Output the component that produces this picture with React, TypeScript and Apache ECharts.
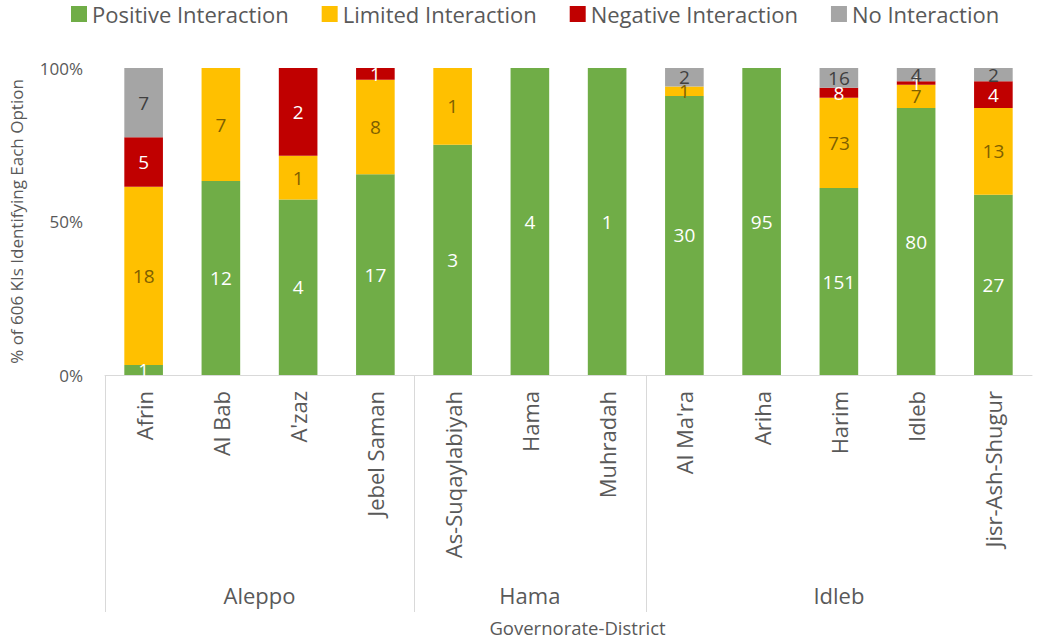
import React, { useEffect, useRef } from "react";
import * as echarts from "echarts";

const districts = [
  "Afrin", "Al Bab", "A'zaz", "Jebel Saman",
  "As-Suqaylabiyah", "Hama", "Muhradah",
  "Al Ma'ra", "Ariha", "Harim", "Idleb", "Jisr-Ash-Shugur",
];
const governorates = ["Aleppo", "Hama", "Idleb"];
const governorateSizes = [4, 3, 5];

const positive = [1, 12, 4, 17, 3, 4, 1, 30, 95, 151, 80, 27];
const limited = [18, 7, 1, 8, 1, 0, 0, 1, 0, 73, 7, 13];
const negative = [5, 0, 2, 1, 0, 0, 0, 0, 0, 8, 1, 4];
const noInteraction = [7, 0, 0, 0, 0, 0, 0, 2, 0, 16, 4, 2];

const seriesNames = ["Positive Interaction", "Limited Interaction", "Negative Interaction", "No Interaction"];
const seriesColors = ["#70AD47", "#FFC000", "#C00000", "#A5A5A5"];
const labelColors = ["#ffffff", "#7F6000", "#ffffff", "#404040"];
const yTicks = [0, 50, 100];

const FONT = "'Open Sans', 'Noto Sans', sans-serif";

export default function App() {
  const ref = useRef<HTMLDivElement>(null);
  useEffect(() => {
    if (!ref.current) return;
    const chart = echarts.init(ref.current, null, { renderer: "svg" });
    const raw = [positive, limited, negative, noInteraction];
    const totals = districts.map((_, i) => raw.reduce((s, arr) => s + arr[i], 0));

    const boundaries: number[] = [];
    const centers: number[] = [];
    let acc = 0;
    governorateSizes.forEach((n) => {
      boundaries.push(acc);
      centers.push(acc + n / 2);
      acc += n;
    });

    const series = raw.map((arr, k) => ({
      name: seriesNames[k],
      type: "bar",
      stack: "total",
      xAxisIndex: 0,
      barWidth: "50%",
      itemStyle: { color: seriesColors[k] },
      label: {
        show: true,
        position: "inside",
        color: labelColors[k],
        fontSize: 19,
        fontFamily: FONT,
        formatter: (p: any) => (arr[p.dataIndex] > 0 ? String(arr[p.dataIndex]) : ""),
      },
      data: arr.map((v, i) => (v / totals[i]) * 100),
    }));

    chart.setOption({
      animation: false,
      textStyle: { fontFamily: FONT },
      legend: {
        top: -2,
        left: 66,
        icon: "rect",
        itemWidth: 16,
        itemHeight: 16,
        itemGap: 33,
        textStyle: { fontSize: 22, color: "#595959", fontFamily: FONT },
        data: seriesNames,
      },
      grid: { left: 105, right: 14, top: 68, bottom: 268, containLabel: false },
      xAxis: [
        {
          type: "category",
          data: districts,
          axisLine: { show: true, lineStyle: { color: "#D9D9D9" } },
          axisTick: { show: false },
          axisLabel: { rotate: 90, margin: 16, fontSize: 22, color: "#595959", fontFamily: FONT, interval: 0 },
        },
        {
          type: "value",
          position: "bottom",
          min: 0,
          max: districts.length,
          axisLine: { show: false },
          splitLine: { show: false },
          axisTick: {
            show: true,
            customValues: boundaries,
            length: 237,
            lineStyle: { color: "#D9D9D9" },
          },
          axisLabel: {
            customValues: centers,
            margin: 209,
            fontSize: 22,
            color: "#595959",
            fontFamily: FONT,
            formatter: (v: number) => {
              const idx = centers.findIndex((c) => Math.abs(c - v) < 1e-6);
              return idx >= 0 ? governorates[idx] : "";
            },
          },
          name: "Governorate-District",
          nameLocation: "middle",
          nameGap: 243,
          nameTextStyle: { fontSize: 18.5, color: "#595959", fontFamily: FONT, padding: [0, 0, 0, 18] },
        },
      ],
      yAxis: {
        type: "value",
        min: yTicks[0],
        max: yTicks[yTicks.length - 1],
        interval: 50,
        axisLine: { show: false },
        axisTick: { show: false },
        splitLine: { show: false },
        axisLabel: { formatter: "{value}%", fontSize: 17, color: "#595959", margin: 22, fontFamily: FONT },
        name: "% of 606 KIs Identifying Each Option",
        nameLocation: "middle",
        nameGap: 80,
        nameTextStyle: { fontSize: 17, color: "#595959", fontFamily: FONT },
      },
      series,
    });
    return () => chart.dispose();
  }, []);
  return <div ref={ref} style={{ width: 1046, height: 643, position: "absolute", left: 0, top: 0 }} />;
}
